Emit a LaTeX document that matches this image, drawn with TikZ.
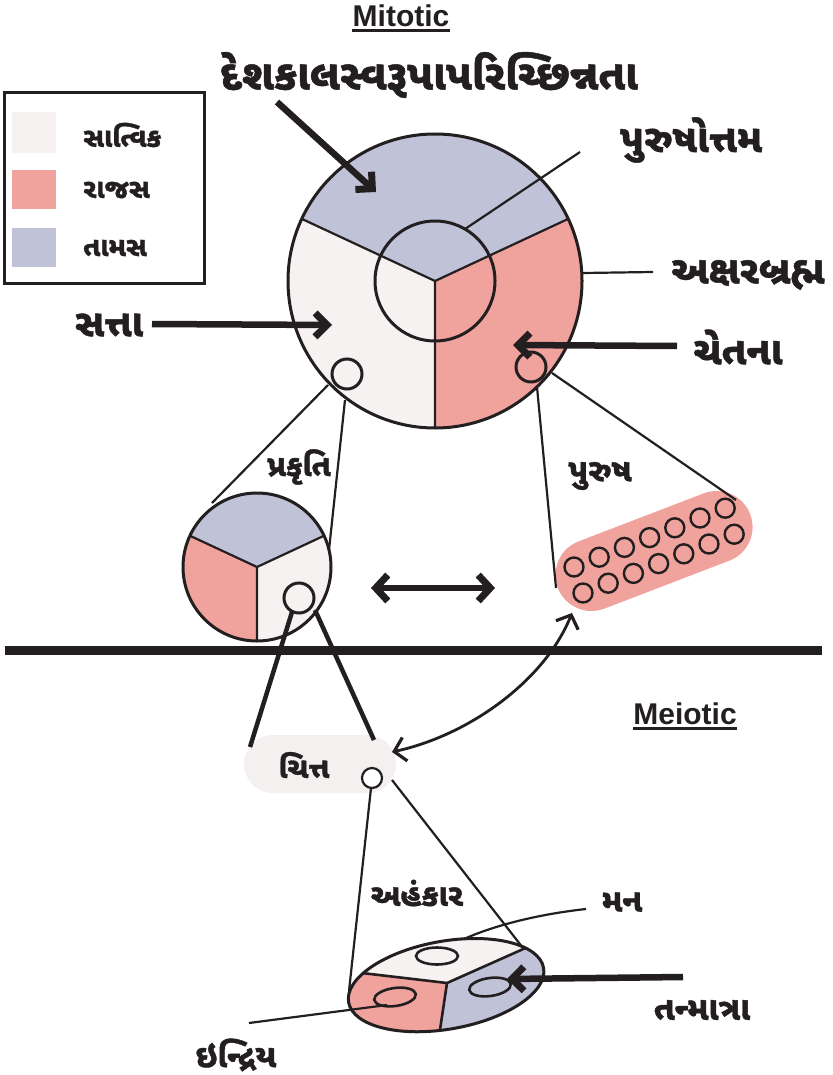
\documentclass[tikz,border=0pt]{standalone}
\usepackage{fontspec}
\setmainfont{Liberation Sans}
\newfontfamily\guj[Script=Gujarati, BoldFeatures={FakeBold=1.2}]{Noto Sans Gujarati UI}
\usetikzlibrary{arrows.meta}
\definecolor{tamas}{HTML}{C0C2D8}
\definecolor{rajas}{HTML}{F0A29D}
\definecolor{sattvik}{HTML}{F6F2F1}
\definecolor{chittac}{HTML}{F3F0EF}
\definecolor{ink}{HTML}{231F20}
\begin{document}
\begin{tikzpicture}[x=1pt,y=-1pt,
  gl/.style={font=\guj\bfseries\fontsize{#1}{#1}\selectfont, text=ink, inner sep=0pt},
  en/.style={font=\bfseries\fontsize{30}{30}\selectfont, text=ink, inner sep=0pt},
  thinl/.style={draw=ink, line width=2.2pt},
  outl/.style={draw=ink, line width=3pt},
  fatarrow/.style={draw=ink, line width=6.5pt, -{Straight Barb[length=12pt,width=24pt,line width=7pt]}},
  midarrow/.style={draw=ink, line width=5.5pt, {Straight Barb[length=12pt,width=26pt,line width=7pt]}-{Straight Barb[length=12pt,width=26pt,line width=7pt]}},
  curvearrow/.style={draw=ink, line width=2.8pt, {Straight Barb[length=11pt,width=24pt,line width=3.2pt]}-{Straight Barb[length=11pt,width=24pt,line width=3.2pt]}},
  thickl/.style={draw=ink, line width=4.5pt}]
\useasboundingbox (0,0) rectangle (832,1075);

% ---------- titles ----------
\node[en] (mit) at (401,16) {Mitotic};
\draw[ink, line width=2.5pt] ([yshift=-4pt]mit.base west) -- ([yshift=-4pt]mit.base east);
\node[en] (mei) at (685,714) {Meiotic};
\draw[ink, line width=2.5pt] ([yshift=-4pt]mei.base west) -- ([yshift=-4pt]mei.base east);

\node[gl=42] (desh) at (429,75) {દેશકાલસ્વરૂપાપરિચ્છિન્નતા};

% ---------- legend ----------
\node[draw=ink, line width=3pt, minimum width=200pt, minimum height=190pt, inner sep=0pt] (legend) at (104.5,188) {};
\fill[sattvik] (12,112) rectangle (56,153);
\fill[rajas] (12,170) rectangle (56,209);
\fill[tamas] (12,228) rectangle (56,267);
\node[gl=27, anchor=west] (lsat) at (83,135) {સાત્વિક};
\node[gl=27, anchor=west] (lraj) at (83,190) {રાજસ};
\node[gl=27, anchor=west] (ltam) at (83,248) {તામસ};

% ---------- big circle ----------
\coordinate (C) at (435,281);
\fill[sattvik] (C) circle[radius=147];
\fill[tamas] (C) -- ++(-155:147) arc[start angle=-155,end angle=-25,radius=147] -- cycle;
\fill[rajas] (C) -- ++(-25:147) arc[start angle=-25,end angle=90,radius=147] -- cycle;
\draw[thinl] (C) -- ++(-155:147) (C) -- ++(-25:147) (C) -- ++(90:147);
\draw[outl] (C) circle[radius=147];
\draw[outl] (C) circle[radius=60];
\node[outl, circle, minimum size=30pt, inner sep=0pt] (bsL) at (347,374) {};
\node[outl, circle, minimum size=30pt, inner sep=0pt] (bsR) at (531,367) {};

% labels around big circle
\node[gl=39] (purushottam) at (691,140) {પુરુષોત્તમ};
\node[gl=39] (akshar) at (748,275) {અક્ષરબ્રહ્મ};
\node[gl=39] (chetana) at (738,347) {ચેતના};
\node[gl=38] (satta) at (109,325) {સત્તા};
\coordinate (puA) at (580,152); \coordinate (puB) at (465,229);
\draw[thinl] (puA) -- (puB);
\coordinate (akA) at (653,272); \coordinate (akB) at (583,273);
\draw[thinl] (akA) -- (akB);
\coordinate (deA) at (277,102); \coordinate (deB) at (376,192);
\draw[fatarrow] (deA) -- (deB);
\coordinate (saA) at (152,324); \coordinate (saB) at (332,325);
\draw[fatarrow] (saA) -- (saB);
\coordinate (chA) at (677,346); \coordinate (chB) at (513,345);
\draw[fatarrow] (chA) -- (chB);

% ---------- prakriti circle ----------
\coordinate (P) at (257,567);
\fill[sattvik] (P) circle[radius=74];
\fill[tamas] (P) -- ++(-155:74) arc[start angle=-155,end angle=-25,radius=74] -- cycle;
\fill[rajas] (P) -- ++(90:74) arc[start angle=90,end angle=205,radius=74] -- cycle;
\draw[thinl] (P) -- ++(-155:74) (P) -- ++(-25:74) (P) -- ++(90:74);
\draw[outl] (P) circle[radius=74];
\node[outl, circle, minimum size=30pt, inner sep=0pt] (psm) at (299,598) {};
\node[gl=30] (prakriti) at (299,467) {પ્રકૃતિ};

\coordinate (l1a) at (328,385); \coordinate (l1b) at (212,503);
\coordinate (l2a) at (345,400); \coordinate (l2b) at (329,550);
\draw[thinl] (l1a) -- (l1b) (l2a) -- (l2b);

% ---------- purusha capsule ----------
\node[fill=rajas, rounded corners=36pt, minimum width=206pt, minimum height=72pt, rotate=21, inner sep=0pt] (pcap) at (654,551) {};
\foreach \i in {0,...,6}{
  \draw[thinl, line width=2.4pt] ({574+25.2*\i},{567-9.8*\i}) circle[radius=9.5];
  \draw[thinl, line width=2.4pt] ({583+25.2*\i},{593-9.8*\i}) circle[radius=9.5];
}
\node[gl=32] (purusha) at (600,476) {પુરુષ};
\coordinate (r1a) at (537,387); \coordinate (r1b) at (556,588);
\coordinate (r2a) at (552,373); \coordinate (r2b) at (736,500);
\draw[thinl] (r1a) -- (r1b) (r2a) -- (r2b);

% double arrow
\coordinate (daL) at (371,588); \coordinate (daR) at (495,588);
\draw[midarrow] (daL) -- (daR);

% separator
\coordinate (sepL) at (5,650); \coordinate (sepR) at (822,650);
\draw[ink, line width=9pt] (sepL) -- (sepR);

% ---------- chitta ----------
\node[fill=chittac, rounded corners=29pt, minimum width=152pt, minimum height=58pt, inner sep=0pt] (cblob) at (320,764) {};
\node[gl=29] (chitta) at (304,765) {ચિત્ત};
\node[thinl, circle, fill=white, minimum size=20pt, inner sep=0pt] (csm) at (372,778) {};
\coordinate (t1a) at (292,612); \coordinate (t1b) at (250,747);
\coordinate (t2a) at (315,610); \coordinate (t2b) at (374,740);
\draw[thickl] (t1a) -- (t1b) (t2a) -- (t2b);

% curved arrow purusha <-> chitta
\coordinate (caA) at (572,613); \coordinate (caB) at (392,752);
\draw[curvearrow] (caA) .. controls (545,680) and (470,735) .. (caB);

% ---------- ahankara ellipse ----------
\coordinate (E) at (446,985);
\coordinate (J) at (447,983);
\begin{scope}
  \clip[rotate around={10:(E)}] (E) ellipse[x radius=99, y radius=44];
  \fill[sattvik] (300,900) rectangle (620,1090);
  \fill[rajas] (J) -- (277,963) -- (277,1090) -- (431,1090) -- cycle;
  \fill[tamas] (J) -- (431,1090) -- (622,1090) -- (622,905) -- cycle;
  \draw[thinl, line width=2.6pt] (J) -- (277,963) (J) -- (431,1090) (J) -- (622,905);
\end{scope}
\draw[outl, rotate around={10:(E)}] (E) ellipse[x radius=99, y radius=44];
\draw[thinl, line width=2.6pt] (437,956) ellipse[x radius=21, y radius=8.5];
\draw[thinl, line width=2.6pt, rotate around={8:(395,997)}] (395,997) ellipse[x radius=21, y radius=9];
\draw[thinl, line width=2.6pt, rotate around={8:(490,987)}] (490,987) ellipse[x radius=21, y radius=9];

\coordinate (a1a) at (371,788); \coordinate (a1b) at (349,991);
\coordinate (a2a) at (392,780); \coordinate (a2b) at (523,948);
\draw[thinl] (a1a) -- (a1b) (a2a) -- (a2b);

\node[gl=31] (ahankar) at (417,893) {અહંકાર};
\node[gl=32] (man) at (622,902) {મન};
\node[gl=33] (tanmatra) at (702,1010) {તન્માત્રા};
\node[gl=32] (indriya) at (236,1055) {ઇન્દ્રિય};

\coordinate (mnA) at (586,909); \coordinate (mnB) at (464,939);
\draw[thinl] (mnA) .. controls (540,914) and (495,925) .. (mnB);
\coordinate (inA) at (249,1023); \coordinate (inB) at (387,1005);
\draw[thinl] (inA) -- (inB);
\coordinate (tmA) at (683,977); \coordinate (tmB) at (507,979);
\draw[fatarrow] (tmA) -- (tmB);
\end{tikzpicture}
\end{document}
